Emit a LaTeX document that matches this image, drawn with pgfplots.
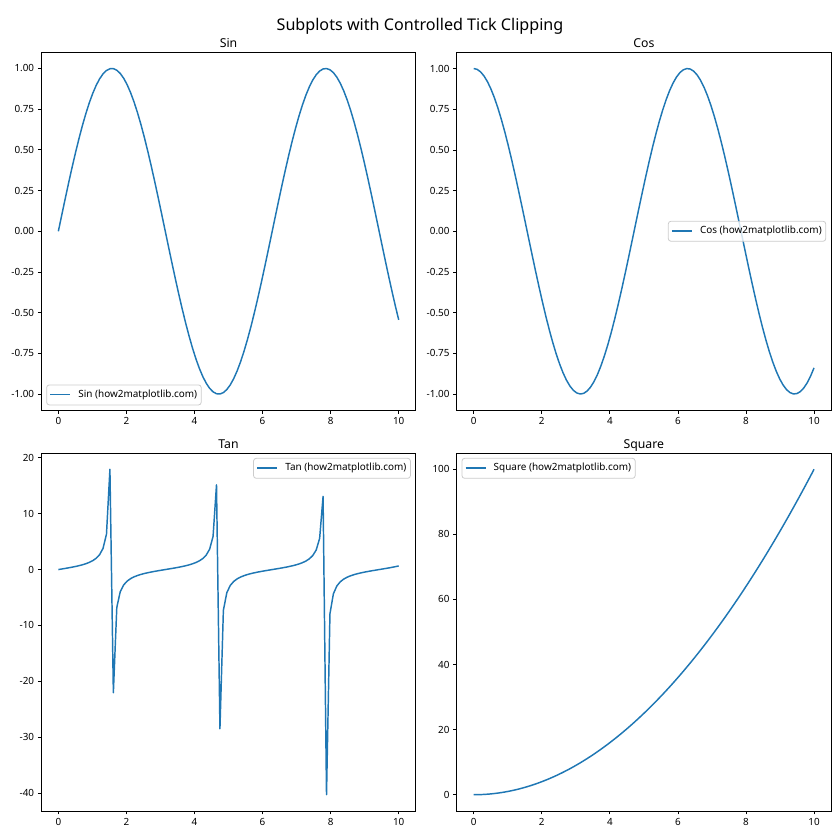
\documentclass[border=0pt]{standalone}
\usepackage{pgfplots}
\pgfplotsset{compat=1.18}
\usepackage{pgfplotstable}
\usepackage{fontspec}
\setmainfont{Noto Sans}
\definecolor{mplblue}{HTML}{1F77B4}

% x, sin, cos, tan, square on 100 points of [0,10]
\pgfplotstableread{
x s c t q
0.0000 0.00000 1.00000 0.0000 0.0000
0.1010 0.10084 0.99490 0.1014 0.0102
0.2020 0.20065 0.97966 0.2048 0.0408
0.3030 0.29841 0.95444 0.3127 0.0918
0.4040 0.39314 0.91948 0.4276 0.1632
0.5051 0.48385 0.87515 0.5529 0.2551
0.6061 0.56963 0.82190 0.6931 0.3673
0.7071 0.64961 0.76027 0.8545 0.4999
0.8081 0.72296 0.69089 1.0464 0.6530
0.9091 0.78894 0.61446 1.2840 0.8264
1.0101 0.84689 0.53178 1.5926 1.0203
1.1111 0.89619 0.44367 2.0199 1.2346
1.2121 0.93636 0.35104 2.6674 1.4692
1.3131 0.96699 0.25483 3.7947 1.7243
1.4141 0.98775 0.15602 6.3309 1.9998
1.5152 0.99845 0.05562 17.951 2.2957
1.6162 0.99897 -0.04534 -22.031 2.6120
1.7172 0.98931 -0.14585 -6.7831 2.9487
1.8182 0.96956 -0.24487 -3.9596 3.3058
1.9192 0.93992 -0.34139 -2.7533 3.6833
2.0202 0.90071 -0.43443 -2.0733 4.0812
2.1212 0.85231 -0.52304 -1.6295 4.4995
2.2222 0.79522 -0.60632 -1.3116 4.9383
2.3232 0.73003 -0.68342 -1.0682 5.3974
2.4242 0.65739 -0.75355 -0.8724 5.8770
2.5253 0.57805 -0.81600 -0.7084 6.3769
2.6263 0.49282 -0.87013 -0.5664 6.8973
2.7273 0.40257 -0.91539 -0.4398 7.4380
2.8283 0.30821 -0.95132 -0.3240 7.9992
2.9293 0.21071 -0.97755 -0.2156 8.5808
3.0303 0.11106 -0.99381 -0.1118 9.1828
3.1313 0.01028 -0.99995 -0.0103 9.8051
3.2323 -0.09061 -0.99589 0.0910 10.4479
3.3333 -0.19057 -0.98167 0.1941 11.1111
3.4343 -0.28859 -0.95745 0.3014 11.7947
3.5354 -0.38366 -0.92347 0.4155 12.4987
3.6364 -0.47483 -0.88008 0.5395 13.2232
3.7374 -0.56115 -0.82771 0.6780 13.9680
3.8384 -0.64176 -0.76691 0.8368 14.7332
3.9394 -0.71582 -0.69828 1.0251 15.5188
4.0404 -0.78259 -0.62254 1.2571 16.3249
4.1414 -0.84137 -0.54045 1.5568 17.1513
4.2424 -0.89158 -0.45286 1.9688 17.9982
4.3434 -0.93270 -0.36064 2.5862 18.8654
4.4444 -0.96432 -0.26476 3.6423 19.7531
4.5455 -0.98610 -0.16617 5.9344 20.6612
4.6465 -0.99783 -0.06588 15.146 21.5896
4.7475 -0.99938 0.03507 -28.495 22.5385
4.8485 -0.99075 0.13567 -7.3027 23.5078
4.9495 -0.97202 0.23489 -4.1383 24.4975
5.0505 -0.94338 0.33171 -2.8440 25.5076
5.1515 -0.90512 0.42515 -2.1289 26.5381
5.2525 -0.85764 0.51425 -1.6677 27.5890
5.3535 -0.80141 0.59811 -1.3399 28.6603
5.4545 -0.73701 0.67588 -1.0904 29.7521
5.5556 -0.66510 0.74675 -0.8907 30.8642
5.6566 -0.58641 0.81001 -0.7240 31.9967
5.7576 -0.50174 0.86502 -0.5800 33.1497
5.8586 -0.41196 0.91120 -0.4521 34.3230
5.9596 -0.31797 0.94810 -0.3354 35.5168
6.0606 -0.22075 0.97533 -0.2263 36.7309
6.1616 -0.12127 0.99262 -0.1222 37.9655
6.2626 -0.02056 0.99979 -0.0206 39.2205
6.3636 0.08036 0.99677 0.0806 40.4959
6.4646 0.18047 0.98358 0.1835 41.7917
6.5657 0.27873 0.96037 0.2902 43.1078
6.6667 0.37415 0.92737 0.4035 44.4444
6.7677 0.46576 0.88491 0.5263 45.8015
6.8687 0.55262 0.83344 0.6631 47.1789
6.9697 0.63384 0.77346 0.8195 48.5767
7.0707 0.70861 0.70561 1.0043 49.9949
7.1717 0.77615 0.63055 1.2309 51.4335
7.2727 0.83577 0.54907 1.5222 52.8926
7.3737 0.88688 0.46200 1.9197 54.3720
7.4747 0.92895 0.37021 2.5092 55.8718
7.5758 0.96155 0.27464 3.5011 57.3921
7.6768 0.98434 0.17628 5.5838 58.9328
7.7778 0.99710 0.07613 13.098 60.4938
7.8788 0.99969 -0.02481 -40.298 62.0753
7.9798 0.99210 -0.12549 -7.9059 63.6772
8.0808 0.97438 -0.22489 -4.3327 65.2995
8.1818 0.94674 -0.32200 -2.9402 66.9421
8.2828 0.90944 -0.41583 -2.1870 68.6052
8.3838 0.86288 -0.50541 -1.7073 70.2887
8.4848 0.80752 -0.58985 -1.3690 71.9927
8.5859 0.74392 -0.66827 -1.1132 73.7170
8.6869 0.67274 -0.73988 -0.9093 75.4617
8.7879 0.59471 -0.80394 -0.7397 77.2268
8.8889 0.51061 -0.85981 -0.5939 79.0123
8.9899 0.42130 -0.90692 -0.4645 80.8183
9.0909 0.32770 -0.94478 -0.3469 82.6446
9.1919 0.23076 -0.97301 -0.2372 84.4914
9.2929 0.13147 -0.99132 -0.1326 86.3585
9.3939 0.03083 -0.99952 -0.0308 88.2461
9.4949 -0.07011 -0.99754 0.0703 90.1541
9.5960 -0.17034 -0.98538 0.1729 92.0824
9.6970 -0.26884 -0.96318 0.2791 94.0312
9.7980 -0.36460 -0.93117 0.3916 96.0004
9.8990 -0.45664 -0.88965 0.5133 97.9900
10.0000 -0.54402 -0.83907 0.6484 100.0000
}\funcs

\tikzset{
  curve/.style={draw=mplblue, line width=1.1pt, line join=round},
  lgd/.style={draw=black!20, line width=0.6pt, rounded corners=2pt, fill=white,
    fill opacity=0.8, text opacity=1, font=\fontsize{7.45}{8.5}\selectfont,
    inner xsep=3pt, inner ysep=0pt, minimum height=15pt,
    text height=5.4pt, text depth=1.7pt},
}
% legend box with its line handle
\newcommand\lgdentry[3]{%
  \node[lgd, #1] (L) at #2 {\hspace*{20.8pt}#3};
  \draw[curve, line width=1.2pt] ([xshift=3pt,yshift=0.4pt]L.west) -- ++(15pt,0pt);}

\pgfplotsset{
  every axis title shift=0pt,
  panel/.style={
    scale only axis, width=280.8pt, height=268.5pt, anchor=south west,
    xmin=-0.5, xmax=10.5, xtick={0,2,...,10},
    tick pos=left, tick align=outside, major tick length=2.6pt,
    axis line style={line width=0.6pt},
    every tick/.style={black, line width=0.6pt},
    tick label style={font=\fontsize{7.4}{8.5}\selectfont},
    xticklabel style={inner sep=0pt, anchor=north, yshift=-2.6pt},
    yticklabel style={inner sep=0pt, anchor=east, xshift=-2.6pt},
    /pgf/number format/assume math mode=true,
    title style={font=\fontsize{9.2}{11}\selectfont, anchor=base, at={(0.5,1)}, yshift=3.5pt},
  },
}

\begin{document}
\begin{tikzpicture}
\useasboundingbox (0,0) rectangle (630pt,630pt);
\node[font=\fontsize{12.1}{14}\selectfont, anchor=base] at (315pt,607.1pt) {Subplots with Controlled Tick Clipping};

\begin{axis}[panel, at={(31pt,322.3pt)}, title={Sin},
  ymin=-1.0993, ymax=1.0996, ytick={-1,-0.75,...,1},
  yticklabel style={/pgf/number format/.cd, fixed, fixed zerofill, precision=2}]
\addplot[curve] table[x=x, y=s] {\funcs};
\lgdentry{anchor=south west}{([xshift=3.7pt,yshift=3.7pt]rel axis cs:0,0)}{Sin (how2matplotlib.com)}
\end{axis}

\begin{axis}[panel, at={(342.5pt,322.3pt)}, title={Cos},
  ymin=-1.0999, ymax=1.1, ytick={-1,-0.75,...,1},
  yticklabel style={/pgf/number format/.cd, fixed, fixed zerofill, precision=2}]
\addplot[curve] table[x=x, y=c] {\funcs};
\lgdentry{anchor=east}{([xshift=-3.7pt]rel axis cs:1,0.5)}{Cos (how2matplotlib.com)}
\end{axis}

\begin{axis}[panel, at={(31pt,21.75pt)}, title={Tan},
  ymin=-43.21, ymax=20.86, ytick={-40,-30,...,20}]
\addplot[curve] table[x=x, y=t] {\funcs};
\lgdentry{anchor=north east}{([xshift=-3.7pt,yshift=-3.7pt]rel axis cs:1,1)}{Tan (how2matplotlib.com)}
\end{axis}

\begin{axis}[panel, at={(342.5pt,21.75pt)}, title={Square},
  ymin=-5, ymax=105, ytick={0,20,...,100}]
\addplot[curve] table[x=x, y=q] {\funcs};
\lgdentry{anchor=north west}{([xshift=3.7pt,yshift=-3.7pt]rel axis cs:0,1)}{Square (how2matplotlib.com)}
\end{axis}
\end{tikzpicture}
\end{document}
